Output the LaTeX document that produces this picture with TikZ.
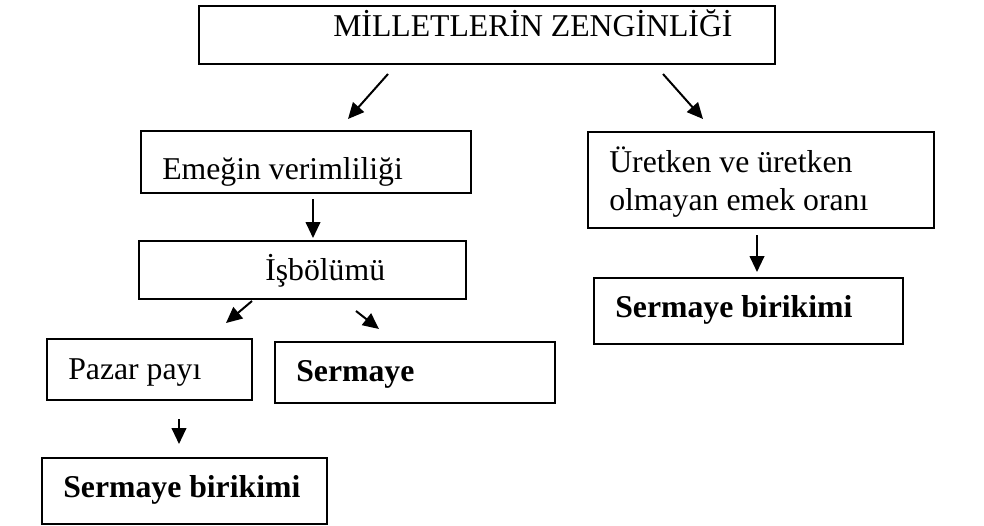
\documentclass[tikz,border=0pt]{standalone}
\usepackage{fontspec}
\setmainfont{Liberation Serif}
\usetikzlibrary{arrows.meta,fit}
\begin{document}
\begin{tikzpicture}[x=0.75pt,y=-0.75pt,
  box/.style={draw=black, line width=1.6pt, inner sep=0pt},
  lbl/.style={anchor=base west, inner sep=0pt, font=\fontsize{23.8}{28}\selectfont},
  blbl/.style={anchor=base west, inner sep=0pt, font=\fontsize{23.8}{28}\selectfont\bfseries},
  arr/.style={line width=1.5pt, -{Triangle[length=12pt,width=11pt]}}]
\useasboundingbox (0,0) rectangle (984,525);

% boxes
\node[box, fit={(199,6) (775,64)}] (top) {};
\node[box, fit={(141,131) (471,193)}] (emek) {};
\node[box, fit={(139,241) (466,299)}] (isb) {};
\node[box, fit={(47,339) (252,400)}] (pazar) {};
\node[box, fit={(275,342) (555,403)}] (serm) {};
\node[box, fit={(42,458) (327,524)}] (sbl) {};
\node[box, fit={(588,132) (934,228)}] (uret) {};
\node[box, fit={(594,278) (903,344)}] (sbr) {};

% texts
\node[lbl] (ttop) at (333,36) {MİLLETLERİN ZENGİNLİĞİ};
\node[lbl] (temek) at (162,179) {Emeğin verimliliği};
\node[lbl] (tisb) at (265,280) {İşbölümü};
\node[lbl] (tpazar) at (68,379) {Pazar payı};
\node[blbl] (tserm) at (296,381) {Sermaye};
\node[blbl] (tsbl) at (63,497) {Sermaye birikimi};
\node[lbl] (turet1) at (609,172) {Üretken ve üretken};
\node[lbl] (turet2) at (609,210) {olmayan emek oranı};
\node[blbl] (tsbr) at (615,317) {Sermaye birikimi};

% arrow end points
\coordinate (a1s) at (388,74);  \coordinate (a1e) at (348,119);
\coordinate (a2s) at (663,74);  \coordinate (a2e) at (703,119);
\coordinate (a3s) at (313,199); \coordinate (a3e) at (313,238);
\coordinate (a4s) at (252,301); \coordinate (a4e) at (226,323);
\coordinate (a5s) at (356,311); \coordinate (a5e) at (379,329);
\coordinate (a6s) at (179,419); \coordinate (a6e) at (179,444);
\coordinate (a7s) at (757,235); \coordinate (a7e) at (757,272);

\draw[arr] (a1s) -- (a1e);
\draw[arr] (a2s) -- (a2e);
\draw[arr] (a3s) -- (a3e);
\draw[arr] (a4s) -- (a4e);
\draw[arr] (a5s) -- (a5e);
\draw[arr] (a6s) -- (a6e);
\draw[arr] (a7s) -- (a7e);
\end{tikzpicture}
\end{document}
